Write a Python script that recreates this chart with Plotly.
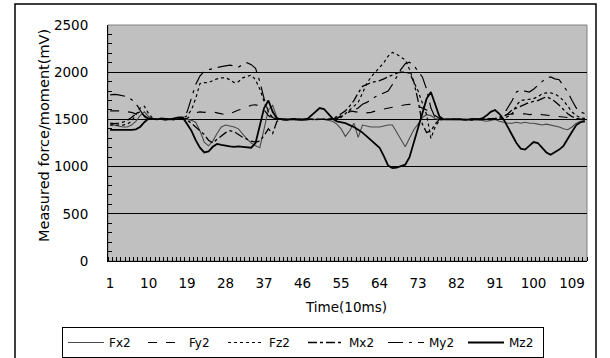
import plotly.graph_objects as go

# ---------------- data ----------------
time_idx = list(range(1, 113))
tick_labels = [1, 10, 19, 28, 37, 46, 55, 64, 73, 82, 91, 100, 109]
series_names = ["Fx2", "Fy2", "Fz2", "Mx2", "My2", "Mz2"]

fx2 = [1450, 1440, 1430, 1420, 1420, 1440, 1480, 1540, 1580, 1530,
       1500, 1505, 1500, 1495, 1500, 1505, 1510, 1500, 1500, 1490,
       1470, 1380, 1260, 1220, 1270, 1350, 1420, 1440, 1430, 1420,
       1400, 1340, 1290, 1250, 1220, 1200, 1400, 1600, 1650, 1520,
       1500, 1495, 1500, 1495, 1490, 1500, 1495, 1500, 1500, 1495,
       1500, 1490, 1480, 1450, 1400, 1320, 1380, 1460, 1310, 1440,
       1430, 1420, 1420, 1420, 1430, 1440, 1440, 1360, 1280, 1210,
       1300, 1390, 1450, 1520, 1550, 1540, 1510, 1500, 1500, 1500,
       1495, 1500, 1500, 1495, 1500, 1500, 1495, 1490, 1480, 1490,
       1500, 1480, 1470, 1460, 1460, 1470, 1460, 1470, 1460, 1460,
       1450, 1440, 1450, 1440, 1430, 1420, 1400, 1390, 1420, 1460,
       1480, 1490]

fy2 = [1590, 1590, 1585, 1590, 1580, 1575, 1560, 1540, 1520, 1505,
       1500, 1500, 1505, 1500, 1500, 1505, 1500, 1500, 1510, 1540,
       1570, 1580, 1575, 1580, 1580, 1570, 1560, 1550, 1560, 1580,
       1600, 1610, 1630, 1650, 1655, 1640, 1600, 1540, 1510, 1500,
       1500, 1505, 1500, 1500, 1505, 1500, 1500, 1495, 1500, 1500,
       1500, 1505, 1500, 1510, 1540, 1580, 1590, 1585, 1575, 1580,
       1570, 1575, 1590, 1600, 1610, 1620, 1625, 1640, 1650, 1655,
       1660, 1655, 1640, 1620, 1600, 1570, 1540, 1510, 1500, 1500,
       1500, 1505, 1500, 1500, 1500, 1505, 1500, 1500, 1500, 1505,
       1510, 1520, 1540, 1550, 1560, 1555, 1560, 1560, 1550, 1555,
       1560, 1550, 1545, 1540, 1540, 1530, 1530, 1520, 1510, 1505,
       1500, 1500]

fz2 = [1440, 1440, 1445, 1440, 1450, 1480, 1550, 1620, 1640, 1560,
       1510, 1500, 1500, 1505, 1500, 1500, 1505, 1510, 1540, 1600,
       1720, 1880, 1890, 1890, 1910, 1930, 1940, 1940, 1920, 1890,
       1900, 1940, 1955, 1970, 1920, 1820, 1690, 1580, 1510, 1500,
       1500, 1495, 1500, 1500, 1495, 1500, 1505, 1500, 1500, 1500,
       1500, 1500, 1505, 1510, 1520, 1560, 1600, 1640, 1680, 1780,
       1880, 1950, 2000, 2040, 2100, 2170, 2210, 2190, 2160, 2130,
       2030, 1900, 1800, 1680, 1550, 1300, 1420, 1490, 1500, 1500,
       1500, 1505, 1500, 1500, 1495, 1500, 1500, 1505, 1500, 1500,
       1500, 1505, 1510, 1530, 1560, 1650, 1700, 1705, 1710, 1720,
       1740, 1770, 1780, 1780, 1770, 1740, 1700, 1640, 1580, 1540,
       1515, 1510]

mx2 = [1460, 1455, 1460, 1470, 1490, 1520, 1560, 1580, 1540, 1510,
       1500, 1505, 1500, 1495, 1500, 1505, 1500, 1500, 1490, 1460,
       1420, 1380, 1340, 1280, 1250, 1290, 1330, 1360, 1380, 1370,
       1340, 1310, 1290, 1270, 1260, 1270, 1330, 1400, 1350, 1480,
       1500, 1495, 1500, 1505, 1500, 1495, 1500, 1500, 1505, 1500,
       1500, 1500, 1510, 1530, 1560, 1590, 1640, 1700, 1780, 1850,
       1870, 1890, 1900, 1910, 1930, 1950, 1970, 1990, 2000, 2000,
       1990, 1900, 1700, 1450, 1360, 1380, 1450, 1500, 1500, 1500,
       1505, 1500, 1500, 1500, 1495, 1500, 1500, 1500, 1505, 1500,
       1500, 1510, 1530, 1560, 1600, 1620, 1640, 1660, 1680, 1690,
       1700, 1720, 1740, 1720, 1690, 1650, 1600, 1560, 1530, 1510,
       1500, 1500]

my2 = [1760, 1765, 1760, 1750, 1740, 1710, 1670, 1600, 1530, 1500,
       1500, 1495, 1500, 1505, 1500, 1495, 1500, 1510, 1580, 1720,
       1870, 1960, 2010, 2025, 2040, 2050, 2060, 2070, 2075, 2065,
       2055, 2080, 2100, 2080, 2040, 1900, 1720, 1580, 1520, 1500,
       1500, 1505, 1500, 1495, 1500, 1500, 1505, 1500, 1495, 1500,
       1500, 1500, 1500, 1510, 1530, 1560, 1580, 1600, 1620, 1660,
       1680, 1710, 1740, 1760, 1780, 1800, 1870, 1950, 2030, 2090,
       2105, 2070, 2010, 1950, 1820, 1620, 1520, 1500, 1500, 1500,
       1500, 1500, 1505, 1500, 1500, 1495, 1500, 1500, 1500, 1505,
       1510, 1520, 1550, 1620, 1700, 1790, 1810, 1800, 1790, 1820,
       1860, 1900, 1940, 1950, 1930, 1920, 1860, 1790, 1700, 1620,
       1580, 1560]

mz2 = [1390, 1390, 1385, 1390, 1390, 1390, 1395, 1420, 1470, 1510,
       1505, 1500, 1510, 1505, 1500, 1510, 1520, 1520, 1450, 1380,
       1280, 1200, 1150, 1160, 1210, 1240, 1230, 1220, 1215, 1210,
       1215, 1210, 1205, 1200, 1250, 1420, 1620, 1700, 1580, 1510,
       1500, 1495, 1500, 1505, 1500, 1495, 1500, 1540, 1590, 1620,
       1610, 1560, 1510, 1480, 1470, 1460, 1440, 1420, 1390, 1360,
       1320, 1280, 1240, 1200, 1110, 1010, 985, 990, 1005, 1020,
       1100, 1250, 1400, 1560, 1720, 1790, 1650, 1530, 1500, 1500,
       1505, 1500, 1500, 1495, 1500, 1505, 1500, 1510, 1540, 1580,
       1600, 1560, 1500, 1420, 1330, 1250, 1190, 1180, 1220, 1260,
       1250, 1200, 1150, 1125, 1150, 1180, 1220, 1300, 1370, 1440,
       1470, 1480]

# ---------------- figure ----------------
FONT = "DejaVu Sans"
styles = {
    "Fx2": dict(color="#4a4a4a", width=1.1, dash="solid"),
    "Fy2": dict(color="black", width=1.2, dash="dash"),
    "Fz2": dict(color="black", width=1.2, dash="dot"),
    "Mx2": dict(color="black", width=1.3, dash="dashdot"),
    "My2": dict(color="black", width=1.2, dash="longdashdot"),
    "Mz2": dict(color="black", width=1.8, dash="solid"),
}
data = {"Fx2": fx2, "Fy2": fy2, "Fz2": fz2, "Mx2": mx2, "My2": my2, "Mz2": mz2}

fig = go.Figure()
for name in series_names:
    fig.add_trace(go.Scatter(x=time_idx, y=data[name], mode="lines", name=name,
                             line=styles[name]))

L, R, T, B = 108, 23, 25, 97
W, H = 610, 358
pw, ph = W - L - R, H - T - B

def px_x(p):
    return (p - L) / pw

def px_y(p):
    return (H - B - p) / ph

fig.update_layout(
    width=W, height=H,
    margin=dict(l=L, r=R, t=T, b=B, pad=0, autoexpand=False),
    paper_bgcolor="white",
    plot_bgcolor="#c0c0c0",
    font=dict(family=FONT, size=13.5, color="black"),
    showlegend=True,
    legend=dict(orientation="h", xref="container", yref="container",
                x=62 / W, y=1 - 327 / H, xanchor="left", yanchor="top",
                bordercolor="black", borderwidth=1, bgcolor="white",
                font=dict(size=12, family=FONT),
                entrywidth=29, entrywidthmode="pixels", itemwidth=36,
                tracegroupgap=0),
    xaxis=dict(range=[0.5, 112.5], tickmode="array", tickvals=tick_labels,
               ticktext=[str(t) for t in tick_labels], ticks="", showgrid=False,
               zeroline=False, showline=True, linecolor="black", linewidth=1,
               ticklabelstandoff=10,
               minor=dict(tickmode="linear", tick0=0.5, dtick=1, ticks="inside",
                          ticklen=4, tickcolor="black", tickwidth=1, showgrid=False)),
    yaxis=dict(range=[0, 2500], dtick=500, tick0=0, ticks="inside", ticklen=4,
               tickcolor="black", showgrid=True, gridcolor="black", gridwidth=1,
               zeroline=False, showline=True, linecolor="black", linewidth=1,
               ticklabelstandoff=16,
               minor=dict(dtick=100, ticks="inside", ticklen=4, tickcolor="black",
                          showgrid=False)),
)

# plot-area border (gray)
fig.add_shape(type="rect", xref="paper", yref="paper", x0=0, x1=1, y0=0, y1=1,
              line=dict(color="#808080", width=1), layer="below")
# outer chart frame (bottom edge lies below the visible canvas)
fig.add_shape(type="rect", xref="paper", yref="paper",
              x0=px_x(15), x1=px_x(596), y0=px_y(362), y1=px_y(4),
              line=dict(color="black", width=1.5))

fig.add_annotation(text="Measured force/moment(mV)", xref="paper", yref="paper",
                   x=px_x(44), y=px_y(136), textangle=-90, showarrow=False,
                   font=dict(size=14.5, family=FONT), xanchor="center", yanchor="middle")
fig.add_annotation(text="Time(10ms)", xref="paper", yref="paper",
                   x=px_x(346), y=px_y(307), showarrow=False,
                   font=dict(size=13.5, family=FONT), xanchor="center", yanchor="middle")

fig.write_html("out.html", config={"displayModeBar": False},
               post_script="document.body.style.margin='0px';document.body.style.overflow='hidden';")
